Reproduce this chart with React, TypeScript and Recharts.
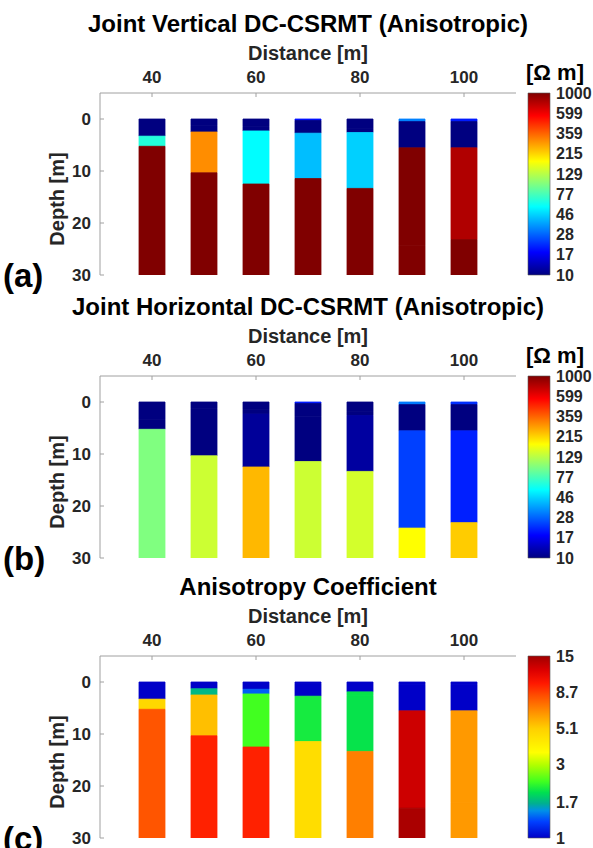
import React from 'react';
import { BarChart, Bar, XAxis, YAxis, Cell, ReferenceArea } from 'recharts';

// ---- data ----
const distances = [40, 50, 60, 70, 80, 90, 100];
const xTicks = [40, 60, 80, 100];
const depthTicks = [0, 10, 20, 30];
const resistivityTicks = [10, 17, 28, 46, 77, 129, 215, 359, 599, 1000];
const anisoTicks = [1, 1.7, 3, 5.1, 8.7, 15];

// layer bottoms (depth, m) per column
const layer1Bottom = [3.3, 1.3, 1.4, 0.3, 1.9, 0.5, 0.5];
const layer2Bottom = [5.25, 2.5, 2.3, 2.73, 2.6, 5.55, 5.55];
const layer3Bottom = [30, 10.35, 12.5, 11.45, 13.35, 24.25, 23.2];
const layer4Bottom = [30, 30, 30, 30, 30, 30, 30];

// (a) vertical resistivity, Ohm m
const verticalL1 = [10, 10, 10, 19, 10, 32, 20];
const verticalL2 = [66, 10, 10, 10, 10, 10, 10];
const verticalL3 = [1000, 298, 56, 42, 45.5, 1000, 803];
const verticalL4 = [1000, 1000, 1000, 1000, 1000, 1000, 1000];

// (b) horizontal resistivity, Ohm m
const horizontalL1 = [10, 10, 10, 20, 10, 31, 22];
const horizontalL2 = [10, 10, 10, 10, 10, 10, 10];
const horizontalL3 = [100, 10, 11.2, 10, 11.6, 23.7, 20.5];
const horizontalL4 = [100, 141, 245, 141, 146, 178, 224];

// (c) anisotropy coefficient
const anisoL1 = [1, 1, 1, 1, 1, 1, 1];
const anisoL2 = [4.81, 1.72, 1.36, 1, 2.0, 1, 1];
const anisoL3 = [8.1, 5.42, 2.32, 2.08, 2.0, 12.8, 6.3];
const anisoL4 = [8.1, 9.7, 9.7, 4.6, 6.93, 14.5, 6.3];

// ---- colormaps ----
const clamp = (x: number) => Math.max(0, Math.min(1, x));
const hex2 = (v: number) => Math.round(clamp(v) * 255).toString(16).padStart(2, '0');
function jet(t: number): string {
  const r = Math.min(4 * t - 1.5, -4 * t + 4.5);
  const g = Math.min(4 * t - 0.5, -4 * t + 3.5);
  const b = Math.min(4 * t + 0.5, -4 * t + 2.5);
  return '#' + hex2(r) + hex2(g) + hex2(b);
}
const anisoStops: [number, string][] = [
  [0.0, '#0000c8'], [0.09, '#0040ff'], [0.15, '#0090e8'], [0.19, '#00b090'],
  [0.25, '#00e050'], [0.31, '#40ff20'], [0.4, '#b0ff00'], [0.47, '#ffff00'],
  [0.6, '#ffd000'], [0.67, '#ffa000'], [0.78, '#ff5000'], [0.85, '#ff1800'],
  [0.92, '#dd0000'], [1.0, '#a00000'],
];
function parseHex(h: string) {
  return [1, 3, 5].map((i) => parseInt(h.slice(i, i + 2), 16) / 255);
}
function aniso(t: number): string {
  t = clamp(t);
  for (let i = 1; i < anisoStops.length; i++) {
    const [t1, c1] = anisoStops[i];
    const [t0, c0] = anisoStops[i - 1];
    if (t <= t1) {
      const f = (t - t0) / (t1 - t0);
      const a = parseHex(c0), b = parseHex(c1);
      return '#' + a.map((v, k) => hex2(v + (b[k] - v) * f)).join('');
    }
  }
  return anisoStops[anisoStops.length - 1][1];
}
const logNorm = (v: number, lo: number, hi: number) =>
  (Math.log10(v) - Math.log10(lo)) / (Math.log10(hi) - Math.log10(lo));

const jetColor = (v: number) => jet(logNorm(v, 10, 1000));
const anisoColor = (v: number) => aniso(logNorm(v, 1, 15));

const jetGradStops = Array.from({ length: 17 }, (_, i) => i / 16).map((t) => [t, jet(t)] as [number, string]);

const font = '"Liberation Sans", Arial, sans-serif';
const tickStyle = { fontSize: 17, fontWeight: 'bold' as const, fill: '#262626', fontFamily: font };

const keys = ['t1', 't2', 't3', 't4'];

function Panel({ top, values, colorFn }: { top: number; values: number[][]; colorFn: (v: number) => string }) {
  const data = distances.map((d, i) => ({
    d,
    t1: layer1Bottom[i],
    t2: layer2Bottom[i] - layer1Bottom[i],
    t3: layer3Bottom[i] - layer2Bottom[i],
    t4: layer4Bottom[i] - layer3Bottom[i],
  }));
  return (
    <div style={{ position: 'absolute', left: 0, top }}>
      <BarChart width={593} height={285} data={data} margin={{ top: 63, right: 77, bottom: 10, left: 0 }}>
        <XAxis
          dataKey="d"
          type="number"
          orientation="top"
          domain={[30, 110]}
          ticks={xTicks}
          height={30}
          allowDataOverflow
          stroke="#a0a0a0"
          tickSize={-4}
          tickMargin={14}
          tick={tickStyle}
        />
        <YAxis
          type="number"
          reversed
          domain={[-5, 30]}
          ticks={depthTicks}
          width={100}
          allowDataOverflow
          stroke="#a0a0a0"
          tickSize={-4}
          tickMargin={13}
          tick={tickStyle}
        />
        {keys.map((k, j) => (
          <Bar key={k} dataKey={k} stackId="s" barSize={26} isAnimationActive={false}>
            {values[j].map((v, i) => (
              <Cell key={i} fill={colorFn(v)} stroke={colorFn(v)} strokeWidth={0.8} />
            ))}
          </Bar>
        ))}
      </BarChart>
    </div>
  );
}

function ColorBar({ top, id, stops, lo, hi, ticks }: { top: number; id: string; stops: [number, string][]; lo: number; hi: number; ticks: number[] }) {
  return (
    <div style={{ position: 'absolute', left: 520, top }}>
      <BarChart width={73} height={285} data={[{ x: 0 }, { x: 1 }]} margin={{ top: 93, right: 0, bottom: 10, left: 8 }}>
        <defs>
          <linearGradient id={id} x1="0" y1="1" x2="0" y2="0">
            {stops.map(([t, c], i) => (
              <stop key={i} offset={t} stopColor={c} />
            ))}
          </linearGradient>
        </defs>
        <XAxis dataKey="x" type="number" domain={[0, 1]} hide />
        <YAxis
          orientation="right"
          type="number"
          scale="log"
          domain={[lo, hi]}
          ticks={ticks}
          interval={0}
          width={43}
          allowDataOverflow
          axisLine={false}
          tickLine={false}
          tickSize={0}
          tickMargin={6}
          tick={{ ...tickStyle, fontSize: 16, textAnchor: 'start' }}
        />
        <ReferenceArea x1={0} x2={1} y1={lo} y2={hi} fill={`url(#${id})`} fillOpacity={1} stroke="#555" strokeWidth={0.6} ifOverflow="visible" />
      </BarChart>
    </div>
  );
}

const titleStyle = { fontFamily: font, fontWeight: 'bold' as const, fill: '#000' };

export default function App() {
  const panelTops = [0, 283, 563];
  const titles = ['Joint Vertical DC-CSRMT (Anisotropic)', 'Joint Horizontal DC-CSRMT (Anisotropic)', 'Anisotropy Coefficient'];
  const letters = ['(a)', '(b)', '(c)'];
  return (
    <div style={{ position: 'absolute', left: 0, top: 0, width: 593, height: 848, background: '#fff', overflow: 'hidden' }}>
      <Panel top={panelTops[0]} values={[verticalL1, verticalL2, verticalL3, verticalL4]} colorFn={jetColor} />
      <Panel top={panelTops[1]} values={[horizontalL1, horizontalL2, horizontalL3, horizontalL4]} colorFn={jetColor} />
      <Panel top={panelTops[2]} values={[anisoL1, anisoL2, anisoL3, anisoL4]} colorFn={anisoColor} />
      <ColorBar top={panelTops[0]} id="jetA" stops={jetGradStops} lo={10} hi={1000} ticks={resistivityTicks} />
      <ColorBar top={panelTops[1]} id="jetB" stops={jetGradStops} lo={10} hi={1000} ticks={resistivityTicks} />
      <ColorBar top={panelTops[2]} id="anisoC" stops={anisoStops} lo={1} hi={15} ticks={anisoTicks} />
      <svg width={593} height={848} style={{ position: 'absolute', left: 0, top: 0, pointerEvents: 'none' }}>
        {panelTops.map((t, i) => (
          <g key={i}>
            <text x={308} y={t + 32} textAnchor="middle" fontSize={24} style={titleStyle}>
              {titles[i]}
            </text>
            <text x={308} y={t + 60} textAnchor="middle" fontSize={20} style={{ ...titleStyle, fill: '#262626' }}>
              Distance [m]
            </text>
            <text
              x={0}
              y={0}
              textAnchor="middle"
              fontSize={20}
              transform={`translate(64, ${t + 199}) rotate(-90)`}
              style={{ ...titleStyle, fill: '#262626' }}
            >
              Depth [m]
            </text>
            <text x={3} y={t + 287} fontSize={33} style={titleStyle}>
              {letters[i]}
            </text>
            {i < 2 && (
              <text x={555} y={t + 80} textAnchor="middle" fontSize={22} style={titleStyle}>
                [Ω m]
              </text>
            )}
          </g>
        ))}
      </svg>
    </div>
  );
}
